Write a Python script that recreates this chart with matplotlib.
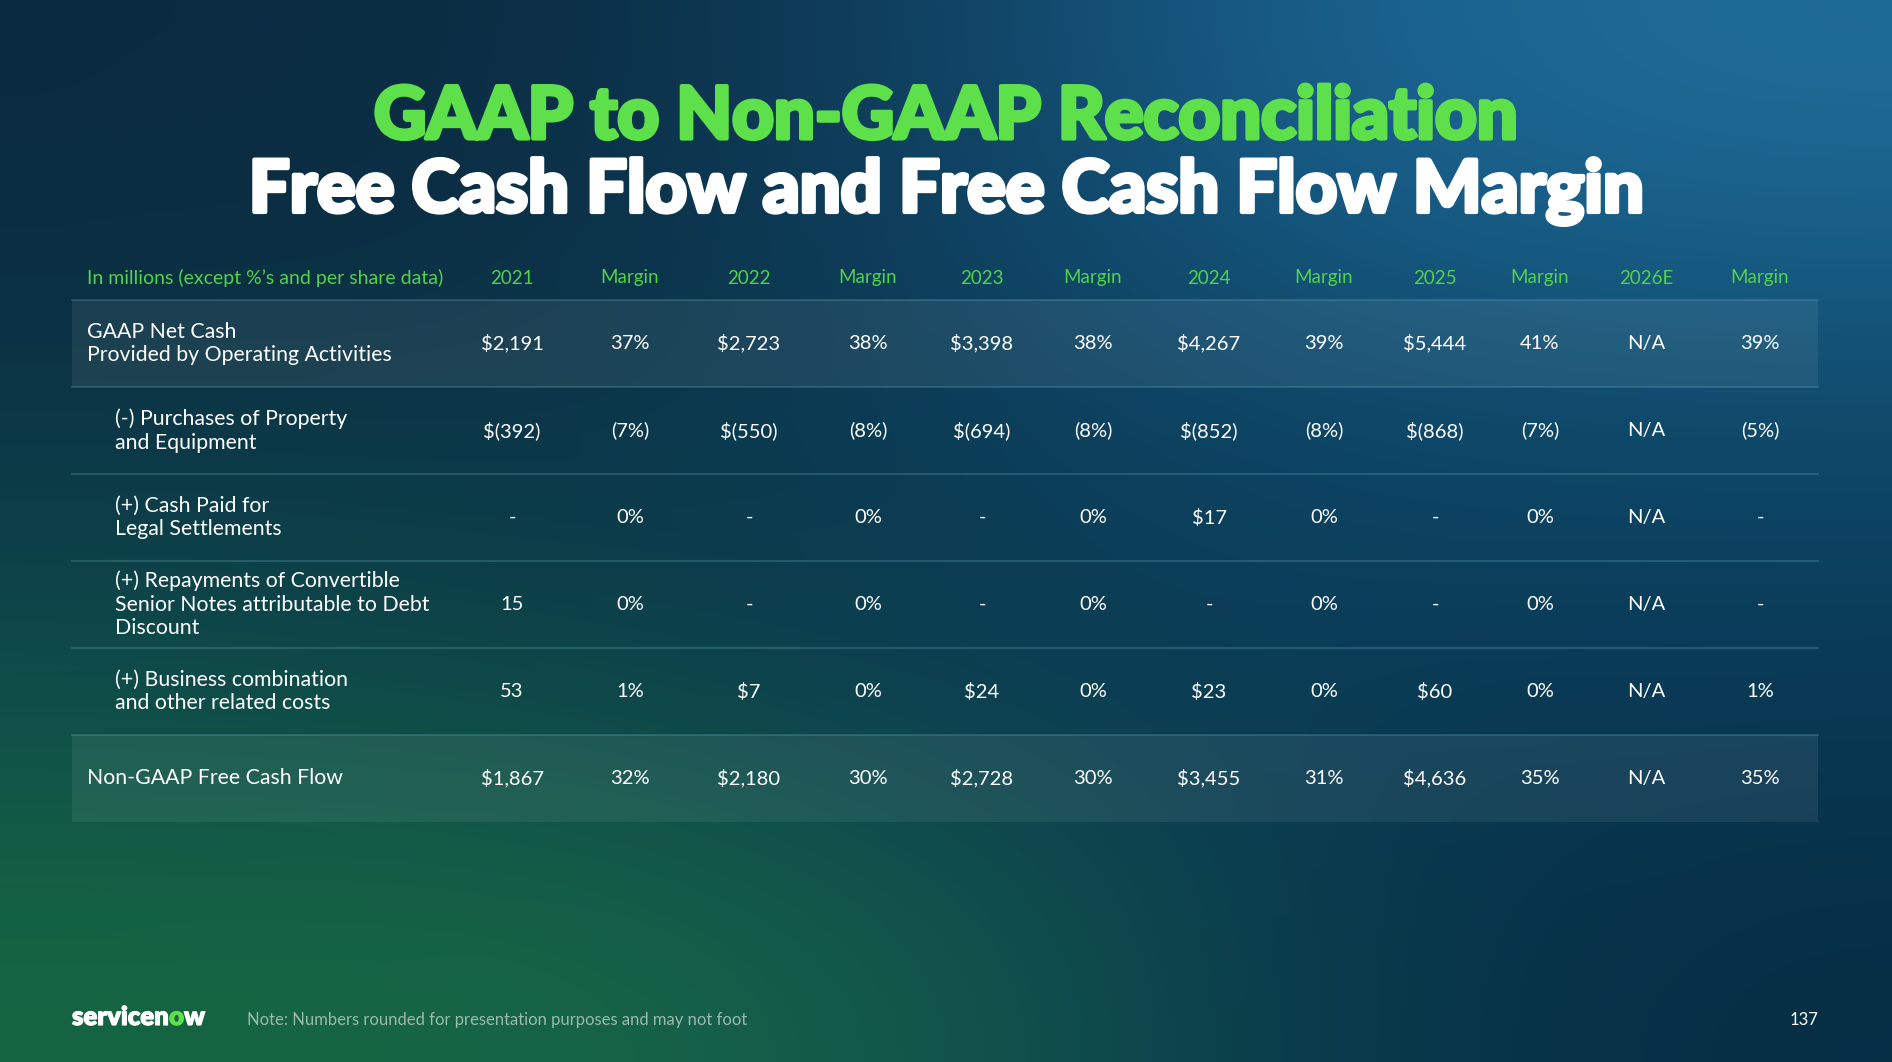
import matplotlib
matplotlib.use("Agg")
import matplotlib.pyplot as plt
import matplotlib.patheffects as pe
import numpy as np
from matplotlib.colors import to_rgb

# ---- data ----
row_labels = [
    "GAAP Net Cash\nProvided by Operating Activities",
    "(-) Purchases of Property\nand Equipment",
    "(+) Cash Paid for\nLegal Settlements",
    "(+) Repayments of Convertible\nSenior Notes attributable to Debt\nDiscount",
    "(+) Business combination\nand other related costs",
    "Non-GAAP Free Cash Flow",
]
row_indent = [False, True, True, True, True, False]
row_shaded = [True, False, False, False, False, True]

col_headers = ["2021", "Margin", "2022", "Margin", "2023", "Margin",
               "2024", "Margin", "2025", "Margin", "2026E", "Margin"]

vals_2021 = ["$2,191", "$(392)", "-", "15", "53", "$1,867"]
marg_2021 = ["37%", "(7%)", "0%", "0%", "1%", "32%"]
vals_2022 = ["$2,723", "$(550)", "-", "-", "$7", "$2,180"]
marg_2022 = ["38%", "(8%)", "0%", "0%", "0%", "30%"]
vals_2023 = ["$3,398", "$(694)", "-", "-", "$24", "$2,728"]
marg_2023 = ["38%", "(8%)", "0%", "0%", "0%", "30%"]
vals_2024 = ["$4,267", "$(852)", "$17", "-", "$23", "$3,455"]
marg_2024 = ["39%", "(8%)", "0%", "0%", "0%", "31%"]
vals_2025 = ["$5,444", "$(868)", "-", "-", "$60", "$4,636"]
marg_2025 = ["41%", "(7%)", "0%", "0%", "0%", "35%"]
vals_2026 = ["N/A", "N/A", "N/A", "N/A", "N/A", "N/A"]
marg_2026 = ["39%", "(5%)", "-", "-", "1%", "35%"]

columns = [vals_2021, marg_2021, vals_2022, marg_2022, vals_2023, marg_2023,
           vals_2024, marg_2024, vals_2025, marg_2025, vals_2026, marg_2026]

title1 = "GAAP to Non-GAAP Reconciliation"
title2 = "Free Cash Flow and Free Cash Flow Margin"
corner_label = "In millions (except %\u2019s and per share data)"
note = "Note: Numbers rounded for presentation purposes and may not foot"
page_no = "137"

# ---- layout (pixels) ----
W, H = 1892, 1062
GREEN = "#5ee04a"
HDR_GREEN = "#52d24a"
FONT = "Lato"

fig = plt.figure(figsize=(W / 100, H / 100), dpi=100)
ax = fig.add_axes([0, 0, 1, 1])
ax.set_xlim(0, W)
ax.set_ylim(H, 0)
ax.axis("off")

# background gradient from a coarse colour grid
grid = [
    ["#0a2a3f", "#0b2e45", "#104262", "#1a6290", "#1f6c99"],
    ["#0b3446", "#0b3447", "#0b3c58", "#0e4768", "#0f4a6b"],
    ["#0e4a4c", "#0d4248", "#0a3a50", "#0a3b56", "#093a56"],
    ["#156641", "#176846", "#13584c", "#09384c", "#062e45"],
]
bg = np.array([[to_rgb(c) for c in r] for r in grid])
ax.imshow(bg, extent=(0, W, H, 0), interpolation="bicubic", aspect="auto", zorder=0)

# title (stroke thickens the bold face toward the heavy slide font)
ax.text(W / 2, 118, title1, color=GREEN, fontsize=52, fontweight="black",
        family=FONT, ha="center", va="center",
        path_effects=[pe.withStroke(linewidth=3, foreground=GREEN)])
ax.text(W / 2, 192, title2, color="white", fontsize=52, fontweight="black",
        family=FONT, ha="center", va="center",
        path_effects=[pe.withStroke(linewidth=3, foreground="white")])

# table geometry
left, right = 72, 1818
label_x, indent_x = 87, 115
col_x = [512, 630, 749, 868, 982, 1093, 1209, 1324, 1435, 1540, 1646, 1760]
header_y = 278
top = 300
row_h = 87

ax.text(label_x, header_y, corner_label, color=HDR_GREEN, fontsize=14,
        family=FONT, ha="left", va="center")
for x, h in zip(col_x, col_headers):
    ax.text(x, header_y, h, color=HDR_GREEN, fontsize=13.5, family=FONT,
            ha="center", va="center")

line_col = (0.45, 0.75, 0.8, 0.28)
ax.plot([left, right], [top, top], color=line_col, lw=1.2, zorder=2)
for i, lab in enumerate(row_labels):
    y0 = top + i * row_h
    yc = y0 + row_h / 2
    if row_shaded[i]:
        ax.add_patch(plt.Rectangle((left, y0), right - left, row_h,
                                   facecolor="white", alpha=0.07, lw=0, zorder=1))
    if i < len(row_labels) - 1:
        ax.plot([left, right], [y0 + row_h, y0 + row_h], color=line_col, lw=1.2, zorder=2)
    ax.text(indent_x if row_indent[i] else label_x, yc, lab, color="white",
            fontsize=15.3, family=FONT, ha="left", va="center", linespacing=1.22)
    for x, col in zip(col_x, columns):
        ax.text(x, yc, col[i], color="white", fontsize=14.5, family=FONT,
                ha="center", va="center")

# footer
logo_y = 1025
t = ax.text(72, logo_y, "servicen", color="white", fontsize=18.5, fontweight="heavy",
            family=FONT, ha="left", va="baseline",
            path_effects=[pe.withStroke(linewidth=0.8, foreground="white")])
o = ax.annotate("o", xy=(1, 0), xycoords=t, color=GREEN, fontsize=18.5,
                fontweight="heavy", family=FONT, ha="left", va="bottom",
                path_effects=[pe.withStroke(linewidth=0.8, foreground=GREEN)])
ax.annotate("w", xy=(1, 0), xycoords=o, color="white", fontsize=18.5,
            fontweight="heavy", family=FONT, ha="left", va="bottom",
            path_effects=[pe.withStroke(linewidth=0.8, foreground="white")])
ax.text(247, logo_y, note, color="#9cb9ad", fontsize=12, family=FONT,
        ha="left", va="baseline")
ax.text(1818, logo_y, page_no, color="white", fontsize=12, family=FONT,
        ha="right", va="baseline")

fig.savefig("out.png", dpi=100)
